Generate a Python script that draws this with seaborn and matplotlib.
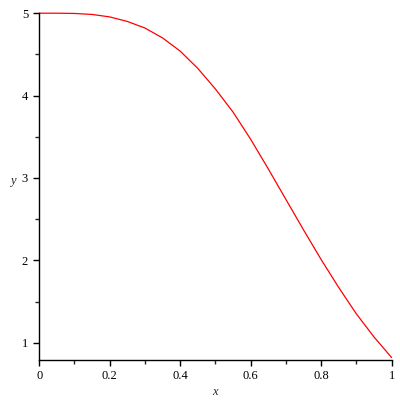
import pandas as pd
import matplotlib
matplotlib.use("Agg")
import matplotlib.pyplot as plt
from matplotlib.ticker import MultipleLocator
import seaborn as sns

# values
x_vals = [0.0, 0.05, 0.10, 0.15, 0.20, 0.25, 0.30, 0.35, 0.40, 0.45, 0.50,
          0.55, 0.60, 0.65, 0.70, 0.75, 0.80, 0.85, 0.90, 0.95, 1.0]
y_vals = [5.0, 5.0, 4.997, 4.985, 4.955, 4.90, 4.82, 4.70, 4.54, 4.33, 4.08,
          3.80, 3.47, 3.11, 2.74, 2.37, 2.01, 1.67, 1.35, 1.07, 0.82]
x_ticks = [0, 0.2, 0.4, 0.6, 0.8, 1]
x_tick_labels = ["0", "0.2", "0.4", "0.6", "0.8", "1"]
y_ticks = [1, 2, 3, 4, 5]

df = pd.DataFrame({"x": x_vals, "y": y_vals})

sns.set_style("ticks")
plt.rcParams["font.family"] = ["Liberation Serif", "DejaVu Serif"]

fig = plt.figure(figsize=(4, 4), dpi=100)
ax = fig.add_axes([0.098, 0.099, 0.881, 0.868])

sns.lineplot(data=df, x="x", y="y", color="red", linewidth=0.9, sort=False,
             ax=ax, clip_on=False)

ax.set_xlim(0, 1)
ax.set_ylim(0.785, 5.0)
ax.set_xticks(x_ticks)
ax.set_xticklabels(x_tick_labels)
ax.set_yticks(y_ticks)
ax.xaxis.set_minor_locator(MultipleLocator(0.1))
ax.yaxis.set_minor_locator(MultipleLocator(0.5))

for side in ["top", "right"]:
    ax.spines[side].set_visible(False)
for side in ["left", "bottom"]:
    ax.spines[side].set_linewidth(1.0)
    ax.spines[side].set_color("black")

ax.tick_params(axis="both", which="major", length=4, width=1, labelsize=9,
               colors="black", direction="out")
ax.tick_params(axis="both", which="minor", length=3, width=1, direction="out")
ax.tick_params(axis="x", pad=3)
ax.tick_params(axis="y", pad=4)

ax.set_xlabel("x", fontsize=9, fontstyle="italic")
ax.set_ylabel("y", fontsize=9, fontstyle="italic", rotation=0)
ax.yaxis.set_label_coords(-0.075, 0.5)
ax.xaxis.set_label_coords(0.5, -0.075)

fig.savefig("out.png", dpi=100)
